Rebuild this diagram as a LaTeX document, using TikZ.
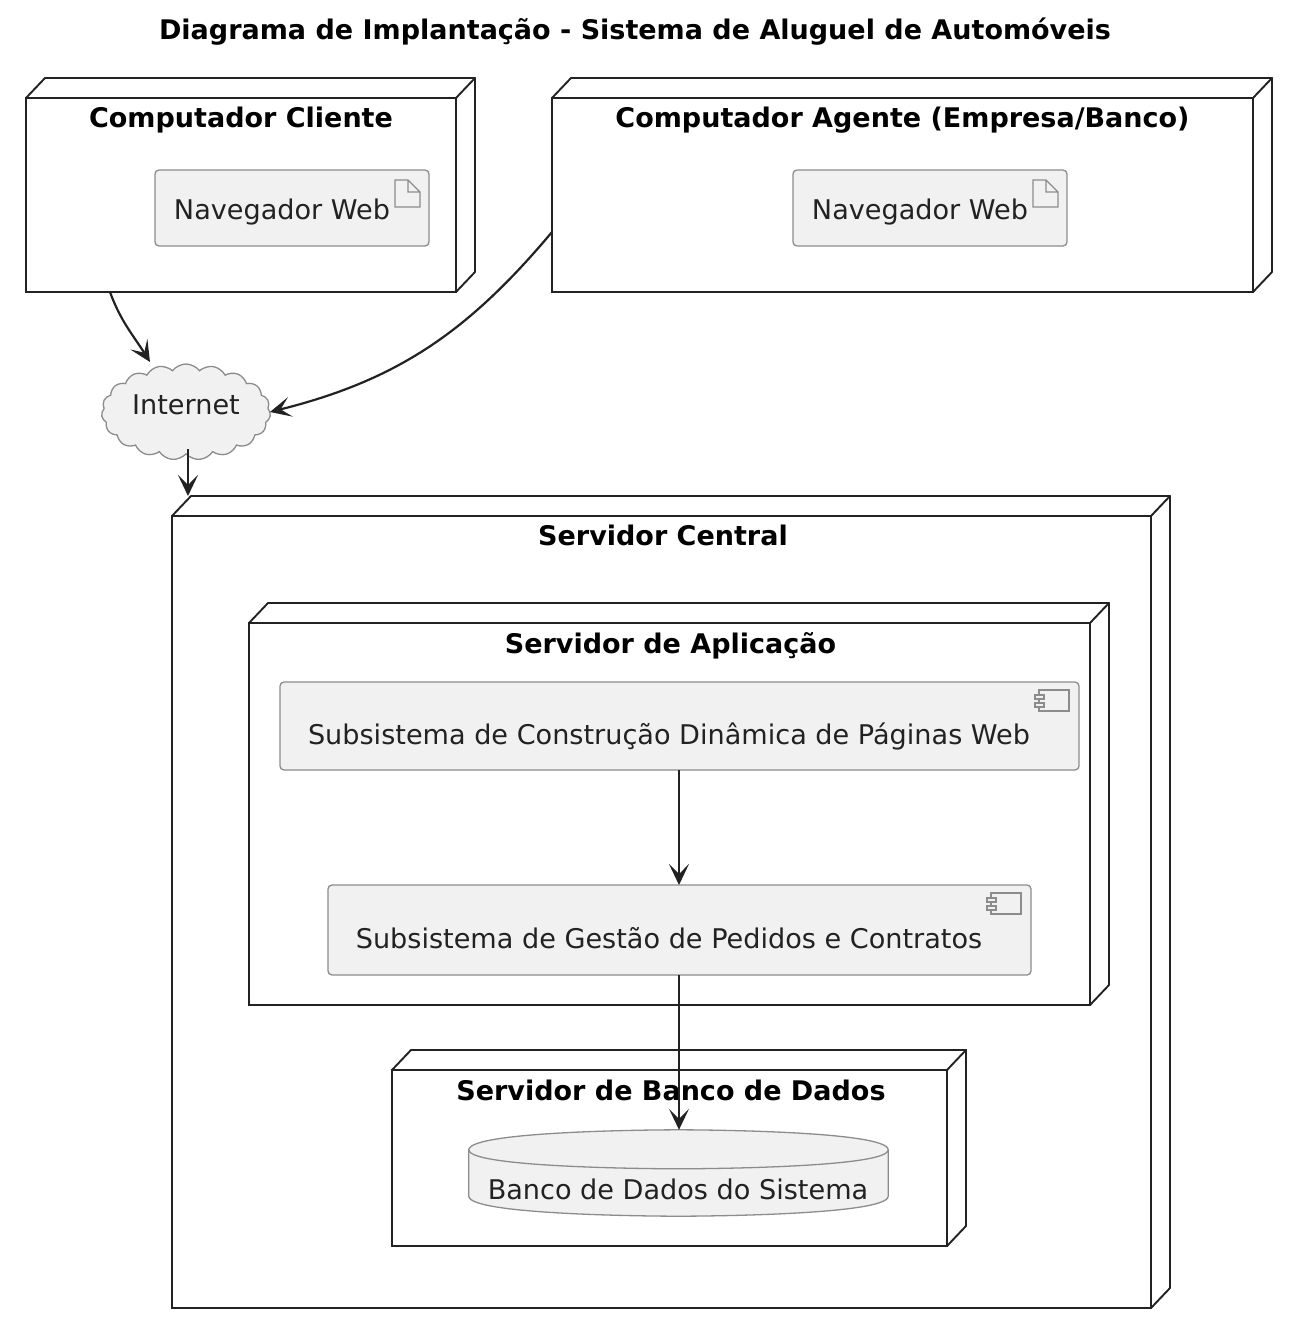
\documentclass[tikz,border=0pt]{standalone}
\usepackage{fontspec}
\setmainfont{DejaVu Sans}
\usetikzlibrary{arrows.meta, shapes, calc}
\definecolor{corCaixa}{HTML}{F1F1F1}
\definecolor{corBorda}{HTML}{8C8C8C}
\definecolor{corLinha}{HTML}{222222}
\tikzset{
  noBox/.style={rectangle, draw=corLinha, line width=1.9pt, outer sep=0pt, inner sep=0pt,
                append after command={
                  (\tikzlastnode.north west) edge[corner3d] ++(19,-20)
                  (\tikzlastnode.north east) edge[corner3d] ++(19,-20)
                  (\tikzlastnode.south east) edge[corner3d] ++(19,-20)
                  ([shift={(19,-20)}]\tikzlastnode.north west) edge[corner3d] ([shift={(19,-20)}]\tikzlastnode.north east)
                  ([shift={(19,-20)}]\tikzlastnode.north east) edge[corner3d] ([shift={(19,-20)}]\tikzlastnode.south east)}},
  corner3d/.style={draw=corLinha, line width=1.9pt, line cap=round},
  noTitulo/.style={anchor=base, font=\fontsize{27}{30}\selectfont\bfseries, text=black, inner sep=0pt},
  titulo/.style={noTitulo},
  caixa/.style={rectangle, draw=corBorda, fill=corCaixa, rounded corners=4pt, line width=1.3pt,
                outer sep=0pt, inner sep=0pt, font=\fontsize{27.1}{30}\selectfont, text=corLinha},
  artefato/.style={caixa, minimum width=274pt, minimum height=76pt, text height=22pt, text depth=0pt},
  componente/.style={caixa, text height=36pt, text depth=0pt},
  nuvem/.style={cloud, cloud puffs=19, cloud puff arc=105, aspect=1.9, draw=corBorda, fill=corCaixa,
                line width=1.3pt, outer sep=0pt, inner sep=0pt, minimum width=169pt, minimum height=96pt,
                font=\fontsize{27.1}{30}\selectfont, text=corLinha, text height=4pt, text depth=0pt},
  icone/.style={draw=corBorda, line width=1.3pt},
  seta/.style={-{Stealth[length=21pt, width=20pt, inset=10pt]}, draw=corLinha, line width=2.2pt}
}
\begin{document}
\begin{tikzpicture}[x=1pt, y=-1pt]
  \useasboundingbox (0,0) rectangle (1288,1336);
  \node[titulo] (titulo) at (635,39) {Diagrama de Implantação - Sistema de Aluguel de Automóveis};

  % computadores
  \node[noBox, minimum width=430pt, minimum height=194pt] (cliente) at (241,195) {};
  \node[noTitulo] (tCliente) at (241,127) {Computador Cliente};
  \node[artefato] (navCliente) at (292,208) {Navegador Web\kern20pt};
  \node[noBox, minimum width=701pt, minimum height=194pt] (agente) at (902.5,195) {};
  \node[noTitulo] (tAgente) at (902.5,127) {Computador Agente (Empresa/Banco)};
  \node[artefato] (navAgente) at (930,208) {Navegador Web\kern20pt};
  \foreach \n in {navCliente,navAgente}
    \draw[icone] ([shift={(-34,10)}]\n.north east) -- ++(0,27) -- ++(25,0) -- ++(0,-15)
      -- ++(-12,-12) -- cycle ++(13,0) -- ++(0,12) -- ++(12,0);

  \node[nuvem] (internet) at (186,412) {Internet};

  % servidores
  \node[noBox, minimum width=979pt, minimum height=792pt] (central) at (661.5,912) {};
  \node[noTitulo] (tCentral) at (663,545) {Servidor Central};
  \node[noBox, minimum width=841pt, minimum height=382pt] (aplicacao) at (669.5,814) {};
  \node[noTitulo] (tAplicacao) at (670.5,653) {Servidor de Aplicação};
  \node[componente, minimum width=799pt, minimum height=88pt] (construcao) at (679.5,726) {Subsistema de Construção Dinâmica de Páginas Web\kern21pt};
  \node[componente, minimum width=703pt, minimum height=90pt] (gestao) at (679.5,930) {Subsistema de Gestão de Pedidos e Contratos\kern21pt};
  \foreach \n in {construcao,gestao} {
    \draw[icone] ([shift={(-40,8)}]\n.north east) rectangle ++(30,21);
    \draw[icone, fill=corCaixa] ([shift={(-44,13)}]\n.north east) rectangle ++(9,4);
    \draw[icone, fill=corCaixa] ([shift={(-44,21)}]\n.north east) rectangle ++(9,4);
  }
  \node[noBox, minimum width=555pt, minimum height=176pt] (dados) at (669.5,1158) {};
  \node[noTitulo] (tDados) at (671,1100) {Servidor de Banco de Dados};

  % banco de dados
  \node[inner sep=0pt, minimum width=419pt, minimum height=86pt] (banco) at (678.5,1173) {};
  \draw[icone, fill=corCaixa] ([shift={(0,20)}]banco.north west)
    .. controls (banco.north west) and (banco.north) .. (banco.north)
    .. controls (banco.north) and (banco.north east) .. ([shift={(0,20)}]banco.north east)
    -- ([shift={(0,-20)}]banco.south east)
    .. controls (banco.south east) and (banco.south) .. (banco.south)
    .. controls (banco.south) and (banco.south west) .. ([shift={(0,-20)}]banco.south west)
    -- cycle;
  \draw[icone] ([shift={(0,20)}]banco.north west)
    .. controls ([shift={(0,39)}]banco.north west) and ([shift={(0,39)}]banco.north) .. ([shift={(0,39)}]banco.north)
    .. controls ([shift={(0,39)}]banco.north) and ([shift={(0,39)}]banco.north east) .. ([shift={(0,20)}]banco.north east);
  \node[anchor=base, inner sep=0pt, font=\fontsize{27.1}{30}\selectfont, text=corLinha] (tBanco) at (678,1199) {Banco de Dados do Sistema};

  % ligacoes
  \draw[seta] ([xshift=84]cliente.south west) to[out=-70, in=122] ([shift={(-36,-50)}]internet.center);
  \draw[seta] ([shift={(0,37)}]agente.west) to[out=-130, in=14] (internet.east);
  \draw[seta] ([shift={(2,37)}]internet.center) -- ([shift={(16,-20)}]central.north west);
  \draw[seta] ([xshift=-0.5]construcao.south) -- ([xshift=-0.5]gestao.north);
  \draw[seta] ([xshift=-0.5]gestao.south) -- ([xshift=-0.5]gestao.south |- banco.north);
\end{tikzpicture}
\end{document}
